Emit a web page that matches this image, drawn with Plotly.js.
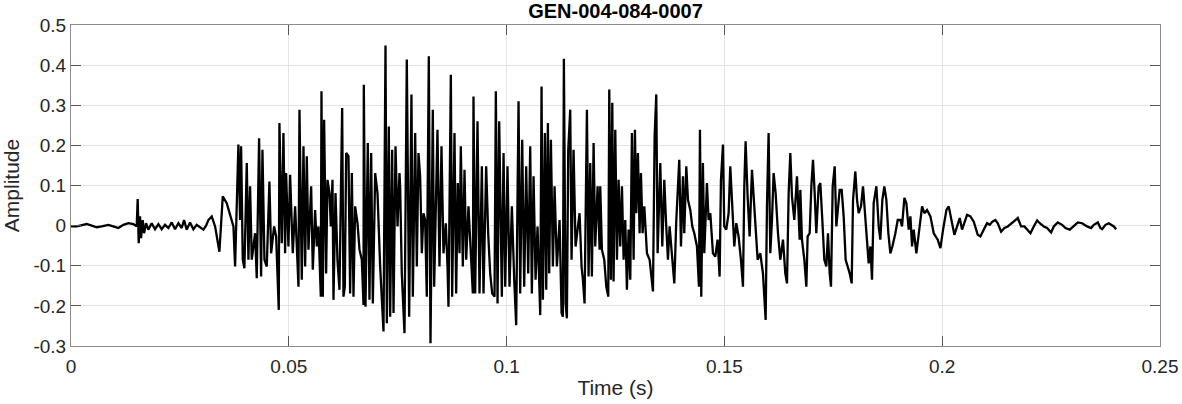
<!DOCTYPE html>
<html>
<head>
<meta charset="utf-8">
<script src="https://cdn.plot.ly/plotly-3.0.1.min.js"></script>
<style>html,body{margin:0;padding:0;background:#fff;}#chart{width:1182px;height:404px;}</style>
</head>
<body>
<div id="chart"></div>
<script>
// Waveform samples (time in s, amplitude)
const leadTime = [0.00000,0.00130,0.00207,0.00360,0.00475,0.00590,0.00704,0.00858,0.00972,0.01087,0.01202,0.01317,0.01432,0.01508,0.01531,0.01554,0.01585,0.01608,0.01646,0.01677,0.01723,0.01776,0.01853,0.01929,0.02006,0.02082,0.02159,0.02236,0.02312,0.02389,0.02465,0.02542,0.02595,0.02657,0.02733,0.02810,0.02886,0.02963,0.03039,0.03101,0.03154];
const leadAmp = [-0.002,-0.002,0.000,0.004,0.000,-0.004,-0.002,0.002,-0.002,-0.006,0.002,0.006,0.004,-0.002,0.066,-0.044,0.023,-0.031,0.014,-0.019,0.006,-0.010,0.006,-0.009,0.004,-0.009,0.002,-0.006,0.008,-0.009,0.006,-0.006,0.014,-0.010,0.008,-0.009,0.002,-0.004,-0.010,0.000,0.014];

const onsetTime = [0.03231,0.03308,0.03407,0.03484,0.03575,0.03667,0.03729,0.03767,0.03843,0.03882,0.03905,0.03943,0.03981,0.04035,0.04073,0.04111,0.04150,0.04226,0.04264,0.04318,0.04364,0.04395,0.04441,0.04494,0.04555,0.04594,0.04663,0.04709,0.04770,0.04785,0.04839,0.04877,0.04915,0.04938,0.04992,0.05030,0.05091,0.05145,0.05222,0.05245,
0.05298,0.05337,0.05375,0.05413,0.05451,0.05513,0.05551,0.05604,0.05643,0.05681,0.05735,0.05750,0.05781,0.05811,0.05857,0.05888,0.05934,0.05964,0.06003,0.06026,0.06072,0.06117,0.06163,0.06225,0.06255,0.06286,0.06317,0.06370,0.06408,0.06447,0.06485,0.06523,0.06577,0.06623,0.06676,0.06715,0.06722,0.06761,0.06814,0.06852,0.06891,0.06929,0.06983,0.07036,0.07097,0.07174,0.07220,0.07251,0.07296,0.07327,0.07373,0.07404,0.07450,0.07496,0.07541];
const onsetAmp = [0.023,-0.002,-0.065,0.073,0.056,0.023,-0.002,-0.102,0.202,0.014,0.198,-0.085,-0.106,0.156,-0.085,0.098,-0.085,-0.019,-0.131,0.218,-0.127,0.189,-0.085,-0.102,0.110,-0.069,-0.002,-0.027,-0.210,0.256,-0.044,0.231,-0.069,0.131,-0.052,0.127,-0.069,0.048,-0.152,0.289,
-0.135,0.198,-0.102,0.173,-0.060,0.098,-0.110,0.039,-0.052,-0.002,-0.177,0.335,-0.177,0.264,-0.119,0.114,0.081,-0.002,0.114,-0.185,0.081,-0.085,-0.160,0.293,-0.177,-0.152,0.181,0.173,-0.169,0.131,-0.177,0.048,0.006,-0.060,-0.085,-0.198,0.351,-0.202,0.206,-0.185,0.181,-0.194,0.131,0.081,-0.102,-0.264,0.449,-0.243,0.247,-0.227,0.189,-0.218,0.198,-0.002,0.131];

const midTime = [0.07556,0.07594,0.07656,0.07709,0.07763,0.07816,0.07847,0.07901,0.07939,0.07977,0.08015,0.08054,0.08092,0.08130,0.08168,0.08214,0.08253,0.08306,0.08337,0.08413,0.08459,0.08505,0.08551,0.08605,0.08643,0.08666,0.08720,0.08750,0.08804,0.08842,0.08880,0.08919,0.08949,0.08995,0.09034,0.09072,0.09125,0.09179,0.09225,0.09240,0.09279,0.09332,0.09378,0.09432,0.09470,0.09531,0.09577,0.09623,0.09669,0.09723,0.09753,0.09792,0.09830,
0.09891,0.09930,0.09968,0.10021,0.10067,0.10121,0.10175,0.10220,0.10274,0.10312,0.10358,0.10404,0.10450,0.10496,0.10542,0.10580,0.10619,0.10665,0.10710,0.10749,0.10772,0.10802,0.10833,0.10879,0.10910,0.10948,0.10978,0.11017,0.11063,0.11101,0.11155,0.11216,0.11262,0.11292,0.11315,0.11354,0.11384,0.11415,0.11461,0.11491,0.11537,0.11583,0.11629,0.11675,0.11721,0.11752,0.11790,0.11844,0.11882,0.11920,0.11958,0.11997,0.12035,0.12089,0.12135];
const midAmp = [0.098,-0.119,-0.268,0.414,-0.227,0.327,-0.177,0.231,-0.102,0.181,0.123,-0.069,0.031,0.014,-0.177,0.422,-0.293,0.289,-0.152,0.239,-0.102,0.198,-0.069,0.006,-0.102,-0.202,0.376,-0.177,0.231,-0.169,0.106,-0.069,0.198,-0.102,0.139,-0.085,0.048,-0.069,-0.169,0.322,-0.169,0.260,-0.169,0.148,-0.169,0.148,-0.019,-0.119,-0.169,-0.177,0.335,-0.194,0.260,
-0.177,0.181,-0.152,0.148,-0.152,0.048,-0.135,-0.248,0.310,-0.169,0.214,-0.152,0.148,-0.119,0.198,-0.169,0.123,-0.135,-0.002,-0.194,-0.223,0.347,-0.185,0.231,-0.160,0.256,-0.119,0.214,-0.102,0.098,-0.102,0.014,-0.218,-0.227,0.416,-0.194,-0.231,0.189,0.289,-0.085,0.189,-0.052,-0.002,0.031,-0.102,-0.135,-0.194,0.289,-0.127,0.156,-0.127,0.206,-0.052,0.098,-0.060];

const decayTime = [0.12150,0.12188,0.12242,0.12288,0.12334,0.12357,0.12395,0.12426,0.12456,0.12495,0.12533,0.12571,0.12609,0.12648,0.12686,0.12724,0.12762,0.12801,0.12839,0.12877,0.12916,0.12946,0.12977,0.13015,0.13053,0.13084,0.13122,0.13161,0.13222,0.13283,0.13337,0.13360,0.13398,0.13436,0.13467,0.13528,0.13574,0.13620,0.13658,0.13704,0.13742,0.13796,0.13850,0.13896,0.13934,0.13964,0.14003,0.14049,0.14079,0.14125,0.14164,0.14217,0.14263,0.14309,0.14370,0.14416,0.14439,
0.14469,0.14507,0.14538,0.14599,0.14637,0.14676,0.14737,0.14791,0.14844,0.14890,0.14921,0.14967,0.14997,0.15043,0.15097,0.15135,0.15181,0.15227,0.15273,0.15326,0.15380,0.15426,0.15457,0.15487,0.15533,0.15579,0.15633,0.15671,0.15709,0.15763,0.15824,0.15885,0.15947,0.15977,0.16015,0.16054,0.16092,0.16130,0.16176,0.16230,0.16283,0.16345,0.16398,0.16437,0.16475,0.16513,0.16551,0.16605,0.16666,0.16728,
0.16743,0.16781,0.16835,0.16881,0.16911,0.16957,0.16996,0.17034,0.17072,0.17110,0.17164,0.17202,0.17248,0.17294,0.17340,0.17378,0.17417,0.17447,0.17486,0.17532,0.17570,0.17608,0.17646,0.17692,0.17738,0.17784,0.17830,0.17876,0.17922,0.17953,0.18006,0.18045,0.18083,0.18136,0.18182,0.18228,0.18274,0.18312,0.18351,0.18389,0.18427,0.18489,0.18542,0.18580,0.18626,0.18672,0.18718,0.18764,0.18810,0.18856,0.18925,0.18979];
const decayAmp = [0.098,-0.060,-0.085,-0.152,-0.177,0.339,-0.135,0.306,-0.139,0.239,-0.085,0.114,-0.052,0.098,-0.085,0.014,-0.160,-0.010,-0.135,0.231,-0.085,0.239,0.031,0.181,-0.019,0.131,-0.019,0.048,-0.069,-0.085,-0.135,-0.164,0.222,0.327,-0.069,0.156,-0.052,0.114,0.014,-0.085,-0.002,-0.069,-0.144,0.014,0.114,0.164,-0.052,0.123,-0.019,0.148,0.064,0.039,-0.002,-0.019,-0.052,-0.152,0.239,
-0.177,0.156,-0.069,0.106,0.014,0.031,-0.069,-0.077,-0.035,-0.127,0.114,0.202,-0.002,-0.010,0.031,0.148,0.048,-0.052,0.006,-0.027,-0.085,-0.152,0.098,0.210,0.073,-0.027,0.139,0.073,0.014,-0.085,-0.069,-0.119,-0.235,0.048,0.231,-0.069,0.014,0.131,0.081,-0.019,-0.085,-0.035,-0.119,-0.144,0.081,0.181,0.073,0.014,0.123,-0.035,
0.089,-0.035,-0.085,-0.152,-0.027,-0.019,0.098,0.164,0.081,-0.019,0.098,0.106,0.014,-0.085,-0.102,-0.019,-0.119,-0.152,0.098,0.148,-0.002,0.039,0.089,0.089,0.023,-0.085,-0.102,-0.119,-0.144,0.064,0.135,0.064,0.031,0.048,0.098,0.023,-0.060,-0.094,-0.052,-0.135,0.056,0.098,-0.002,-0.035,0.064,0.098,0.064,-0.019,-0.069,-0.052,-0.019,0.014];

const tailTime = [0.19040,0.19078,0.19132,0.19178,0.19231,0.19270,0.19308,0.19346,0.19407,0.19484,0.19538,0.19591,0.19652,0.19729,0.19806,0.19897,0.19959,0.20020,0.20097,0.20150,0.20204,0.20280,0.20342,0.20403,0.20456,0.20510,0.20571,0.20648,0.20724,0.20816,0.20877,0.20954,0.21031,0.21092,0.21153,0.21222,0.21276,0.21352,0.21429,0.21505,0.21605,0.21681,0.21735,0.21811,0.21888,0.21964,0.22026,
0.22102,0.22179,0.22240,0.22332,0.22408,0.22500,0.22562,0.22653,0.22753,0.22830,0.22929,0.23021,0.23113,0.23212,0.23327,0.23419,0.23480,0.23572,0.23633,0.23672,0.23748,0.23825,0.23878,0.23940,0.23993];
const tailAmp = [0.014,-0.002,0.069,0.056,-0.010,0.023,-0.052,-0.010,-0.069,-0.002,0.048,0.031,0.039,0.023,-0.019,-0.035,-0.056,-0.010,0.039,0.048,0.014,-0.023,-0.002,0.019,-0.010,0.006,0.027,0.023,0.010,-0.023,-0.027,-0.010,0.006,0.002,0.010,0.014,0.006,-0.015,-0.006,-0.002,0.006,0.014,0.019,-0.002,-0.002,-0.010,-0.019,
-0.002,0.013,0.006,-0.002,-0.006,-0.017,-0.002,0.008,0.002,-0.006,-0.010,-0.002,0.008,0.006,-0.002,-0.006,0.002,0.008,-0.006,-0.009,0.002,0.006,0.002,-0.002,-0.009];

const xTickVals = [0, 0.05, 0.1, 0.15, 0.2, 0.25];
const xTickText = ['0', '0.05', '0.1', '0.15', '0.2', '0.25'];
const yTickVals = [-0.3, -0.2, -0.1, 0, 0.1, 0.2, 0.3, 0.4, 0.5];
const yTickText = ['-0.3', '-0.2', '-0.1', '0', '0.1', '0.2', '0.3', '0.4', '0.5'];

const time = [].concat(leadTime, onsetTime, midTime, decayTime, tailTime);
const amp = [].concat(leadAmp, onsetAmp, midAmp, decayAmp, tailAmp);

const FONT = 'Liberation Sans, Arial, Helvetica, sans-serif';
const axisCommon = {
  ticks: 'inside', ticklen: 10, tickwidth: 1, tickcolor: '#555555',
  showline: true, linecolor: '#8c8c8c', linewidth: 1, mirror: 'ticks',
  showgrid: true, gridcolor: '#e3e3e3', gridwidth: 1, zeroline: false,
  tickfont: {family: FONT, size: 19, color: '#262626'},
  automargin: false, fixedrange: true
};

const trace = {
  x: time, y: amp, type: 'scatter', mode: 'lines',
  line: {color: '#000000', width: 2.3}, hoverinfo: 'skip'
};

const layout = {
  width: 1182, height: 404,
  margin: {l: 71, r: 22, t: 25, b: 58},
  paper_bgcolor: '#ffffff', plot_bgcolor: '#ffffff',
  showlegend: false,
  font: {family: FONT, color: '#262626'},
  title: {text: '<b>GEN-004-084-0007</b>', font: {family: FONT, size: 20, color: '#000000'},
          x: 0.5, xref: 'paper', xanchor: 'center', y: 1 - 11/404, yref: 'container', yanchor: 'middle'},
  xaxis: Object.assign({}, axisCommon, {
    range: [0, 0.25], tickmode: 'array', tickvals: xTickVals, ticktext: xTickText,
    ticklabelstandoff: 3,
    title: {text: 'Time (s)', font: {family: FONT, size: 21, color: '#262626'}, standoff: 4}
  }),
  yaxis: Object.assign({}, axisCommon, {
    range: [-0.3, 0.5], tickmode: 'array', tickvals: yTickVals, ticktext: yTickText,
    title: {text: 'Amplitude', font: {family: FONT, size: 21, color: '#262626'}, standoff: 9}
  })
};

Plotly.newPlot('chart', [trace], layout, {staticPlot: true, displayModeBar: false});
</script>
</body>
</html>
